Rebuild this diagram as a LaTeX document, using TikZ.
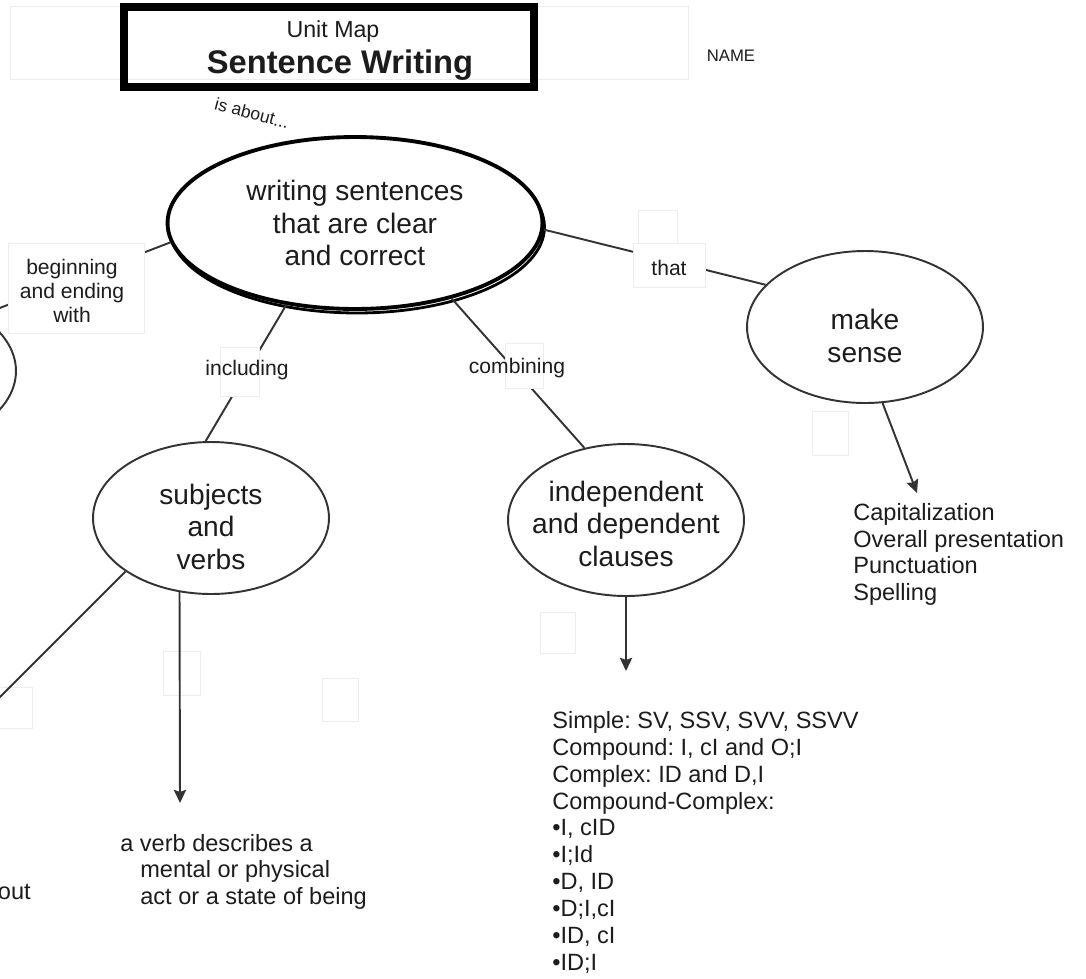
\documentclass[tikz,border=0pt]{standalone}
\usepackage{fontspec}
\setmainfont{Liberation Sans}
\usetikzlibrary{arrows.meta,positioning,shapes.geometric}
\definecolor{inkline}{HTML}{333333}
\definecolor{inktext}{HTML}{1C1C1C}
\definecolor{faintline}{HTML}{EDEDED}
\frenchspacing

\begin{document}
\begin{tikzpicture}[
  x=0.02cm, y=-0.02cm,
  concept/.style={ellipse, draw=inkline, line width=1.1pt, fill=white, inner sep=0pt,
    minimum width=4.72cm, minimum height=3.04cm},
  concepttext/.style={align=center, text=inktext, font=\fontsize{16}{18.5}\selectfont},
  linktext/.style={align=center, text=inktext, inner sep=0pt, font=\fontsize{12}{13.6}\selectfont},
  listtext/.style={align=left, text=inktext, anchor=north west, inner sep=0pt,
    font=\fontsize{13.4}{15.2}\selectfont},
  faintbox/.style={draw=faintline, fill=white, line width=0.5pt},
  link/.style={draw=inkline, line width=1.1pt},
  arrowlink/.style={link, -{Stealth[length=7.5pt, width=7pt, inset=1.2pt]}}
]
\useasboundingbox (0,0) rectangle (1086,978);
\clip (0,0) rectangle (1086,978);

% title
\draw[faintbox] (10,6) rectangle (688,79);
\node[draw=black, line width=4.8pt, inner sep=0pt, minimum width=8.2cm, minimum height=1.6cm] (titlebox) at (329,47) {};
\node[text=inktext, font=\fontsize{13.2}{15}\selectfont] (unitmap) at (333,31) {Unit Map};
\node[text=inktext, font=\fontsize{18.6}{21}\selectfont\bfseries] (unitname) at (340,65) {Sentence Writing};
\node[text=inktext, font=\fontsize{9.5}{11}\selectfont] (namefield) at (731,56) {NAME};
\node[text=inktext, rotate=-15, font=\fontsize{10}{12}\selectfont] (isabout) at (252,113) {is about...};

% empty boxes
\draw[faintbox] (638,210) rectangle (677,245);
\draw[faintbox] (812,411) rectangle (848,455);
\draw[faintbox] (163,651) rectangle (200,695);
\draw[faintbox] (322,678) rectangle (358,721);
\draw[faintbox] (540,612) rectangle (575,653);
\draw[faintbox] (-2,687) rectangle (32,728);

% concepts
\node[concept, draw=black, line width=1.6pt, minimum width=7.5cm, minimum height=3.44cm] (mainshadow) at (357,227) {};
\node[concept, draw=black, line width=2.2pt, minimum width=7.5cm, minimum height=3.44cm,
  label={[concepttext]center:writing sentences\\that are clear\\and correct}] (main) at (355,223) {};
\node[concept, label={[concepttext, yshift=-5pt]center:subjects\\and\\verbs}] (subj) at (211,518) {};
\node[concept, label={[concepttext, yshift=-2pt]center:independent\\and dependent\\clauses}] (indep) at (626,520) {};
\node[concept, label={[concepttext, yshift=-5pt]center:make\\sense}] (sense) at (865,327) {};
\node[concept] (leftell) at (-102,371) {};

% connectors
\draw[link] (main.186) -- (leftell.34);
\draw[link] (main.230) -- (subj.94);
\draw[link] (main.322) -- (indep.120);
\draw[link] (main.358) -- (sense.157);
\coordinate (lowleft) at (-60,757);
\draw[link] (subj.212) -- (lowleft);

\coordinate (capstip) at (917,493);
\coordinate (verbtip) at (180,803);
\coordinate (clausetip) at (626,671);
\draw[arrowlink] (sense.283) -- (capstip);
\draw[arrowlink] (subj.247) -- (verbtip);
\draw[arrowlink] (indep.270) -- (clausetip);

% link labels
\draw[faintbox] (8,243) rectangle (144,333);
\node[linktext] (beginlink) at (72,291) {beginning\\and ending\\with};
\draw[faintbox] (220,347) rectangle (259,396);
\node[linktext] (inclink) at (247,370) {including};
\draw[faintbox] (505,343) rectangle (543,388);
\node[linktext] (comblink) at (517,368) {combining};
\draw[faintbox] (633,243) rectangle (705,287);
\node[linktext] (thatlink) at (669,268) {that};

% lists
\node[listtext] (capslist) at (853,503) {Capitalization\\Overall presentation\\Punctuation\\Spelling};
\node[listtext, font=\fontsize{13.4}{15.3}\selectfont] (clauselist) at (552,711)
  {Simple: SV, SSV, SVV, SSVV\\Compound: I, cI and O;I\\Complex: ID and D,I\\Compound-Complex:\\%
   •I, cID\\•I;Id\\•D, ID\\•D;I,cI\\•ID, cI\\•ID;I};
\node[listtext, font=\fontsize{13.4}{15.1}\selectfont] (verbnote) at (120,834)
  {a verb describes a\\\hspace*{11.4pt}mental or physical\\\hspace*{11.4pt}act or a state of being};
\node[text=inktext, anchor=base east, inner sep=0pt, font=\fontsize{13.4}{15.2}\selectfont] (outnote) at (31,899) {out};
\end{tikzpicture}
\end{document}
